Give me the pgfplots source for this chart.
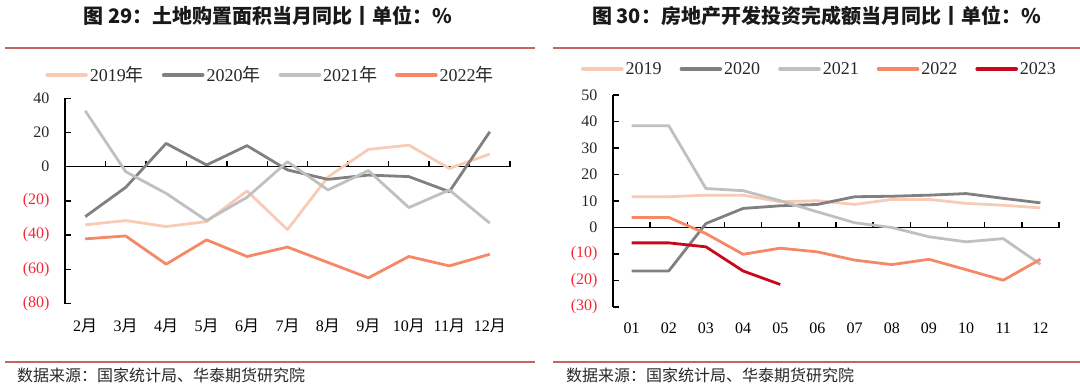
\documentclass[border=0pt]{standalone}
\usepackage{fontspec}
\setmainfont{Liberation Serif}
\newfontfamily\cjk{Noto Sans CJK SC}
\usepackage{pgfplots}
\pgfplotsset{compat=1.18}
\definecolor{c2019}{RGB}{248,203,180}
\definecolor{c2020}{RGB}{128,128,128}
\definecolor{c2021}{RGB}{192,192,192}
\definecolor{c2022}{RGB}{245,137,103}
\definecolor{c2023}{RGB}{200,8,28}
\definecolor{rulered}{RGB}{194,102,100}
\definecolor{negred}{RGB}{245,40,50}
\definecolor{txtgray}{RGB}{40,40,40}
\newcommand{\yue}{{\cjk 月}}
\newcommand{\nian}{{\cjk 年}}
\pgfplotsset{
  common/.style={
    scale only axis,
    axis lines=left,
    axis line style={-, line width=1.4pt, black},
    x axis line style={draw=none},
    xtick style={draw=none},
    ytick style={line width=1.4pt, black},
    tick align=inside,
    major tick length=6pt,
    xtick=data,
    xticklabel style={font=\fontsize{16}{16}\selectfont, text=black, yshift=-12pt},
    yticklabel style={font=\fontsize{16}{16}\selectfont, text=txtgray, xshift=-12pt},
    clip=false,
    legend columns=-1,
    legend image code/.code={\draw[##1, line width=3.6pt, line cap=round] (1.5pt,0pt) -- (40.5pt,0pt);},
    legend style={draw=none, fill=none, inner sep=0pt,
      font=\fontsize{18}{18}\selectfont, text=txtgray,
      nodes={inner xsep=2pt, inner ysep=0pt},
      /tikz/every even column/.append style={column sep=16pt}},
    every axis plot/.append style={line width=2.8pt, line join=round, mark=none},
  }
}
\begin{document}
\begin{tikzpicture}
\path[use as bounding box] (0pt,0pt) rectangle (1080pt,389pt);
% titles
\node[font=\cjk\bfseries\fontsize{20}{20}\selectfont, text=black!90] at (268pt,373.3pt) {图 29：土地购置面积当月同比丨单位：\%};
\node[font=\cjk\bfseries\fontsize{20}{20}\selectfont, text=black!90] at (816.5pt,373.3pt) {图 30：房地产开发投资完成额当月同比丨单位：\%};
% rules
\draw[rulered, line width=2pt] (5pt,340.7pt) -- (535pt,340.7pt);
\draw[rulered, line width=2pt] (553pt,340.7pt) -- (1080pt,340.7pt);
\draw[rulered, line width=2pt] (5pt,27.3pt) -- (535pt,27.3pt);
\draw[rulered, line width=2pt] (553pt,27.3pt) -- (1080pt,27.3pt);
% sources
\node[anchor=west, font=\cjk\fontsize{16}{16}\selectfont, text=txtgray, inner sep=0pt] at (17pt,14pt) {数据来源：国家统计局、华泰期货研究院};
\node[anchor=west, font=\cjk\fontsize{16}{16}\selectfont, text=txtgray, inner sep=0pt] at (566pt,14pt) {数据来源：国家统计局、华泰期货研究院};

% left chart
\begin{axis}[common,
  at={(65pt,85.5pt)}, anchor=south west,
  width=445pt, height=205.2pt,
  xmin=-0.5, xmax=10.5, ymin=-80, ymax=40,
  xticklabels={2\yue,3\yue,4\yue,5\yue,6\yue,7\yue,8\yue,9\yue,10\yue,11\yue,12\yue},
  ytick={-80,-60,-40,-20,0,20,40},
  yticklabels={\textcolor{negred}{(80)},\textcolor{negred}{(60)},\textcolor{negred}{(40)},\textcolor{negred}{(20)},0,20,40},
  legend style={at={(0.4618,1.1135)}, anchor=center},
]
\draw[black, line width=1.4pt] (axis cs:-0.5,0) -- (axis cs:10.5,0);
\pgfplotsinvokeforeach{0.5,1.5,2.5,3.5,4.5,5.5,6.5,7.5,8.5,9.5,10.5}{\draw[black, line width=1.4pt] (axis cs:#1,0) -- ([yshift=6pt]axis cs:#1,0);}
\addplot[c2019] coordinates {(0,-34) (1,-31.5) (2,-35) (3,-32.1) (4,-14.2) (5,-36.8) (6,-6) (7,10.1) (8,12.6) (9,-1) (10,7.4)};
\addlegendentry{2019\nian}
\addplot[c2020] coordinates {(0,-29.2) (1,-12.1) (2,13.6) (3,1.0) (4,12.3) (5,-1.9) (6,-7.4) (7,-4.9) (8,-5.8) (9,-14.6) (10,20.4)};
\addlegendentry{2020\nian}
\addplot[c2021] coordinates {(0,32.7) (1,-2.9) (2,-15.6) (3,-31.5) (4,-17.9) (5,2.9) (6,-13.6) (7,-2.3) (8,-23.9) (9,-13.6) (10,-33)};
\addlegendentry{2021\nian}
\addplot[c2022] coordinates {(0,-42.2) (1,-40.5) (2,-57) (3,-42.8) (4,-52.5) (5,-47) (6,-56) (7,-65) (8,-52.5) (9,-58) (10,-51.2)};
\addlegendentry{2022\nian}
\end{axis}

% right chart
\begin{axis}[common,
  at={(613pt,82pt)}, anchor=south west,
  width=446pt, height=212pt,
  xmin=-0.5, xmax=11.5, ymin=-30, ymax=50,
  xticklabels={01,02,03,04,05,06,07,08,09,10,11,12},
  ytick={-30,-20,-10,0,10,20,30,40,50},
  yticklabels={\textcolor{negred}{(30)},\textcolor{negred}{(20)},\textcolor{negred}{(10)},0,10,20,30,40,50},
  legend style={at={(0.463,1.1226)}, anchor=center},
]
\draw[black, line width=1.4pt] (axis cs:-0.5,0) -- (axis cs:11.5,0);
\pgfplotsinvokeforeach{0.5,1.5,2.5,3.5,4.5,5.5,6.5,7.5,8.5,9.5,10.5,11.5}{\draw[black, line width=1.4pt] (axis cs:#1,0) -- ([yshift=6pt]axis cs:#1,0);}
\addplot[c2019] coordinates {(0,11.6) (1,11.6) (2,12.2) (3,12.2) (4,9.7) (5,10.1) (6,8.7) (7,10.6) (8,10.6) (9,9.1) (10,8.4) (11,7.4)};
\addlegendentry{2019}
\addplot[c2020] coordinates {(0,-16.4) (1,-16.4) (2,1.5) (3,7.2) (4,8.2) (5,8.7) (6,11.6) (7,11.8) (8,12.2) (9,12.8) (10,11.0) (11,9.3)};
\addlegendentry{2020}
\addplot[c2021] coordinates {(0,38.4) (1,38.4) (2,14.7) (3,13.9) (4,10.1) (5,5.9) (6,1.8) (7,0) (8,-3.5) (9,-5.4) (10,-4.2) (11,-13.9)};
\addlegendentry{2021}
\addplot[c2022] coordinates {(0,3.8) (1,3.8) (2,-2.3) (3,-10.1) (4,-7.8) (5,-9.2) (6,-12.3) (7,-14.0) (8,-12.0) (9,-15.9) (10,-19.9) (11,-12.0)};
\addlegendentry{2022}
\addplot[c2023] coordinates {(0,-5.8) (1,-5.8) (2,-7.3) (3,-16.4) (4,-21.5)};
\addlegendentry{2023}
\end{axis}
\end{tikzpicture}
\end{document}
